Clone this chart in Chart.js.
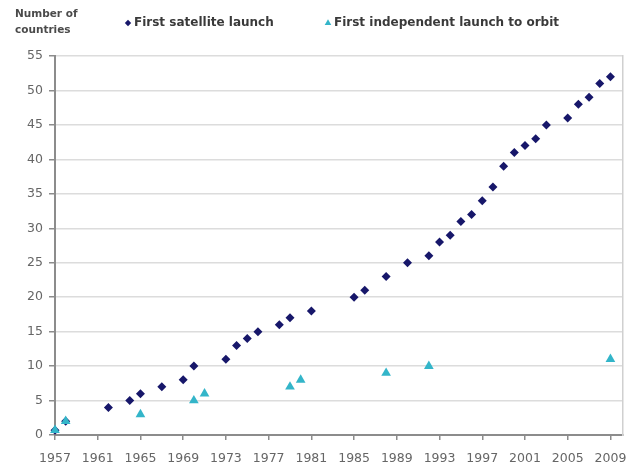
<!DOCTYPE html>
<html>
<head>
<meta charset="utf-8">
<script src="https://cdn.jsdelivr.net/npm/chart.js@4.4.1/dist/chart.umd.min.js"></script>
<style>
  html, body { margin: 0; padding: 0; background: #ffffff; }
  #wrap { position: relative; width: 628px; height: 468px; }
</style>
</head>
<body>
<div id="wrap"><canvas id="c" width="628" height="468"></canvas></div>
<script>
// ---- data ----
const satelliteYears  = [1957,1958,1962,1964,1965,1967,1969,1970,1973,1974,1975,1976,1978,1979,1981,1985,1986,1988,1990,1992,1993,1994,1995,1996,1997,1998,1999,2000,2001,2002,2003,2005,2006,2007,2008,2009];
const satelliteCounts = [0.7,2,4,5,6,7,8,10,11,13,14,15,16,17,18,20,21,23,25,26,28,29,31,32,34,36,39,41,42,43,45,46,48,49,51,52];
const independentYears  = [1957,1958,1965,1970,1971,1979,1980,1988,1992,2009];
const independentCounts = [0.7,2,3,5,6,7,8,9,10,11];
const xTickYears = [1957,1961,1965,1969,1973,1977,1981,1985,1989,1993,1997,2001,2005,2009];
const seriesNames = ['First satellite launch', 'First independent launch to orbit'];
const axisTitleLines = ['Number of', 'countries'];

// ---- styles ----
const NAVY = '#17176a';
const CYAN = '#33b5c9';
const TICK_COLOR = '#666666';
const TICK_FONT = { family: 'DejaVu Sans', size: 12.5 };

function toPoints(xs, ys) { return xs.map((x, i) => ({ x: x, y: ys[i] })); }

function drawMarker(ctx, style, x, y, r, color) {
  ctx.beginPath();
  if (style === 'rectRot') {
    ctx.moveTo(x, y - r); ctx.lineTo(x + r, y); ctx.lineTo(x, y + r); ctx.lineTo(x - r, y);
  } else {
    const h = r * 1.5, w = r * Math.sqrt(3);
    ctx.moveTo(x, y - r); ctx.lineTo(x + w / 2, y + h - r); ctx.lineTo(x - w / 2, y + h - r);
  }
  ctx.closePath();
  ctx.fillStyle = color;
  ctx.fill();
}

const headerPlugin = {
  id: 'header',
  afterDraw(chart) {
    const ctx = chart.ctx;
    ctx.save();
    ctx.textBaseline = 'middle';
    ctx.textAlign = 'left';
    ctx.fillStyle = '#4a4a4a';
    ctx.font = 'bold 10.5px "DejaVu Sans"';
    ctx.fillText(axisTitleLines[0], 15, 14);
    ctx.fillText(axisTitleLines[1], 15, 30);
    const legendX = [128, 328];
    const legendY = 23;
    ctx.font = 'bold 12px "DejaVu Sans"';
    chart.data.datasets.forEach((ds, i) => {
      drawMarker(ctx, ds.pointStyle, legendX[i], legendY, i === 0 ? 3.2 : 3.8, ds.backgroundColor);
      ctx.fillStyle = '#3a3a3a';
      ctx.fillText(ds.label, legendX[i] + 6, legendY);
    });
    ctx.restore();
  }
};

function noSidePad(s) { s.paddingLeft = 0; s.paddingRight = 0; s.paddingTop = 0; s.paddingBottom = 0; }

new Chart(document.getElementById('c'), {
  type: 'scatter',
  data: {
    datasets: [
      {
        label: seriesNames[0],
        data: toPoints(satelliteYears, satelliteCounts),
        pointStyle: 'rectRot',
        pointRadius: 4.5,
        backgroundColor: NAVY,
        borderColor: NAVY,
        borderWidth: 0,
        order: 1,
        clip: false
      },
      {
        label: seriesNames[1],
        data: toPoints(independentYears, independentCounts),
        pointStyle: 'triangle',
        pointRadius: 5.6,
        backgroundColor: CYAN,
        borderColor: CYAN,
        borderWidth: 0,
        order: 0,
        clip: false
      }
    ]
  },
  options: {
    responsive: false,
    animation: false,
    devicePixelRatio: 1,
    layout: { padding: { top: 56, right: 3, bottom: 0, left: 0 } },
    plugins: {
      legend: { display: false },
      tooltip: { enabled: false }
    },
    scales: {
      x: {
        type: 'linear',
        min: 1957,
        max: 2010.12,
        afterBuildTicks: (s) => { s.ticks = xTickYears.map(v => ({ value: v })); },
        afterFit: (s) => { s.height = 33; noSidePad(s); },
        ticks: {
          color: TICK_COLOR,
          font: TICK_FONT,
          padding: 11,
          maxRotation: 0,
          autoSkip: false,
          callback: (v) => String(v)
        },
        grid: {
          drawOnChartArea: false,
          drawTicks: true,
          tickLength: 5,
          tickColor: '#8c8c8c',
          lineWidth: 1.5
        },
        border: { color: '#8c8c8c', width: 2 }
      },
      y: {
        min: 0,
        max: 55,
        afterFit: (s) => { s.width = 55; noSidePad(s); },
        ticks: {
          stepSize: 5,
          color: TICK_COLOR,
          font: TICK_FONT,
          padding: 6
        },
        grid: {
          color: '#dcdcdc',
          lineWidth: 1.5,
          tickLength: 6,
          tickColor: '#8c8c8c'
        },
        border: { color: '#8c8c8c', width: 2 }
      },
      y2: {
        position: 'right',
        min: 0,
        max: 55,
        afterFit: (s) => { s.width = 0; noSidePad(s); },
        ticks: { display: false },
        grid: { drawOnChartArea: false, drawTicks: false },
        border: { color: '#d0d0d0', width: 1.5 }
      }
    }
  },
  plugins: [headerPlugin]
});
</script>
</body>
</html>
